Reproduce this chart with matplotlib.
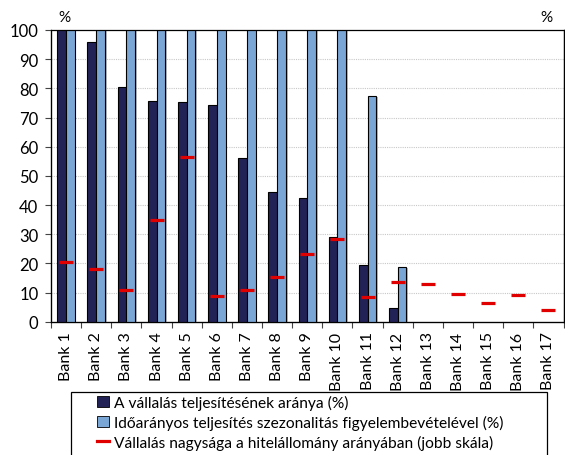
import numpy as np
import matplotlib
matplotlib.use("Agg")
import matplotlib.pyplot as plt
from matplotlib.patches import Rectangle, Patch
from matplotlib.lines import Line2D
import matplotlib.patheffects as pe

plt.rcParams['font.family'] = ['Lato', 'DejaVu Sans']

banks = [f"Bank {i}" for i in range(1, 18)]
fulfilment = [100, 96.0, 80.4, 75.6, 75.2, 74.4, 56.2, 44.5, 42.4, 28.9,
              19.4, 4.7, np.nan, np.nan, np.nan, np.nan, np.nan]
seasonal = [100, 100, 100, 100, 100, 100, 100, 100, 100, 100,
            77.5, 18.8, np.nan, np.nan, np.nan, np.nan, np.nan]
commitment = [20.4, 18.0, 10.8, 34.8, 56.4, 8.7, 10.8, 15.2, 23.1, 28.2,
              8.4, 13.5, 12.8, 9.4, 6.3, 9.1, 3.9]
yticks = list(range(0, 101, 10))

legend_labels = ["A vállalás teljesítésének aránya (%)",
                 "Időarányos teljesítés szezonalitás figyelembevételével (%)",
                 "Vállalás nagysága a hitelállomány arányában (jobb skála)"]

dark = '#232257'
light = '#7AA6D6'
red = '#E00000'

W, H = 565, 456
fig = plt.figure(figsize=(W / 100, H / 100), dpi=100)
ax = fig.add_axes([51 / W, 1 - 322.7 / H, (563.5 - 51) / W, (322.7 - 31) / H])

x = np.arange(len(banks))
bw = 0.29
shadow = [pe.SimplePatchShadow(offset=(1.2, -0.8), shadow_rgbFace='#888888', alpha=0.6),
          pe.Normal()]
ax.bar(x - bw / 2, fulfilment, bw, color=dark, edgecolor='black', linewidth=0.8,
       zorder=3, path_effects=shadow)
ax.bar(x + bw / 2, seasonal, bw, color=light, edgecolor='black', linewidth=0.8,
       zorder=3, path_effects=shadow)

ax.set_xlim(-0.5, len(banks) - 0.5)
ax.set_ylim(0, 100)
ax.set_yticks(yticks)
ax.set_yticklabels([str(v) for v in yticks], fontsize=12)
ax.set_xticks(x)
ax.set_xticklabels(banks, rotation=90, fontsize=11.5)
ax.set_xticks(np.arange(-0.5, len(banks), 1), minor=True)
ax.tick_params(axis='x', which='major', length=0, pad=7)
ax.tick_params(axis='x', which='minor', length=4, width=0.8, direction='out', color='#444444')
ax.tick_params(axis='y', length=4, width=0.8, direction='out', pad=5, color='#444444')

for v in yticks[1:-1]:
    ax.axhline(v, color='#C8C8C8', linewidth=0.8, linestyle=(0, (1, 1)), zorder=0)

for side in ['left', 'bottom', 'right']:
    ax.spines[side].set_color('black')
    ax.spines[side].set_linewidth(0.9)
ax.spines['top'].set_color('#777777')
ax.spines['top'].set_linewidth(0.9)

ax2 = ax.twinx()
ax2.set_ylim(0, 100)
ax2.set_yticks(yticks)
ax2.set_yticklabels([])
ax2.tick_params(axis='y', length=4, width=0.8, direction='out', color='#444444')
ax2.spines['right'].set_color('black')
ax2.spines['right'].set_linewidth(0.9)
ax2.plot(x, commitment, linestyle='none', marker='_', markersize=9.5,
         markeredgewidth=2.3, color=red, zorder=5)

fig.text(64 / W, 1 - 18 / H, '%', fontsize=11, ha='center', va='center')
fig.text(546 / W, 1 - 18 / H, '%', fontsize=11, ha='center', va='center')

# legend frame running past the lower edge
fig.patches.append(Rectangle((71 / W, -0.05), (547 - 71) / W, (1 - 393 / H) + 0.05,
                             transform=fig.transFigure, facecolor='white',
                             edgecolor='black', linewidth=0.9, zorder=1))
handles = [Patch(facecolor=dark, edgecolor='black', linewidth=0.6),
           Patch(facecolor=light, edgecolor='black', linewidth=0.6),
           Line2D([0], [0], color=red, linewidth=2.3)]
fig.legend(handles, legend_labels, loc='upper left',
           bbox_to_anchor=(94 / W, 1 - 393 / H), frameon=False, fontsize=11.2,
           handlelength=0.75, handleheight=0.7, handletextpad=0.35,
           labelspacing=0.3, borderpad=0.2, borderaxespad=0)

fig.savefig('out.png', dpi=100)
